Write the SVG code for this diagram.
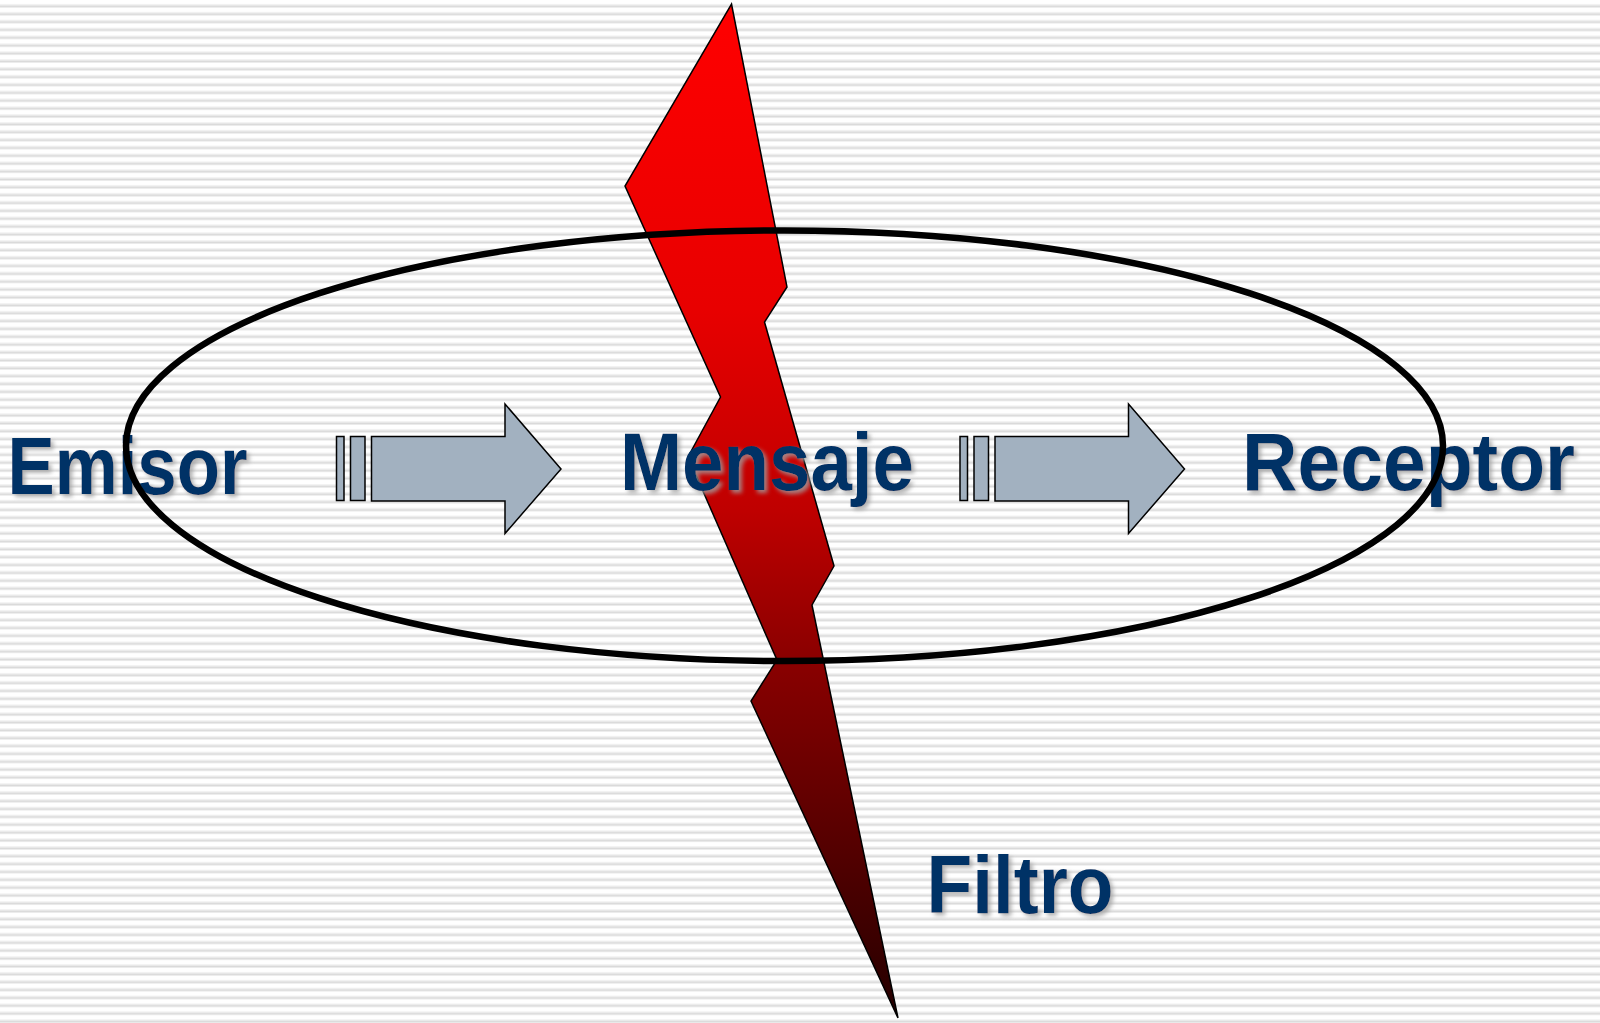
<svg xmlns="http://www.w3.org/2000/svg" width="1600" height="1023" viewBox="0 0 1600 1023">
  <defs>
    <!-- striped paper background -->
    <pattern id="stripes" x="0" y="0" width="40" height="7.87" patternUnits="userSpaceOnUse">
      <rect width="40" height="7.87" fill="#ffffff"/>
      <rect y="4.3" width="40" height="1.2" fill="#ececec"/>
      <rect y="5.5" width="40" height="1.9" fill="#dadada"/>
    </pattern>
    <linearGradient id="boltFill" x1="0" y1="4" x2="0" y2="1018" gradientUnits="userSpaceOnUse">
      <stop offset="0" stop-color="#ff0000"/>
      <stop offset="0.3" stop-color="#e80000"/>
      <stop offset="0.5" stop-color="#bf0000"/>
      <stop offset="0.64" stop-color="#8c0000"/>
      <stop offset="1" stop-color="#240000"/>
    </linearGradient>
    <filter id="textShadow" x="-10%" y="-20%" width="130%" height="150%">
      <feDropShadow dx="3" dy="3" stdDeviation="2.2" flood-color="#a0a0a0" flood-opacity="0.8"/>
    </filter>
    <style>
      .label { font-family: "Liberation Sans", Arial, sans-serif; font-weight: bold; font-size: 81px; fill: #003366; filter: url(#textShadow); }
      .arrow { fill: #a2b1c0; stroke: #000000; stroke-width: 1.5; stroke-linejoin: miter; }
      .bolt { fill: url(#boltFill); stroke: #000000; stroke-width: 1.5; stroke-linejoin: miter; }
      .ring { fill: none; stroke: #000000; stroke-width: 6.5; }
    </style>
  </defs>

  <rect width="1600" height="1023" fill="url(#stripes)"/>

  <!-- lightning bolt -->
  <g id="filtro-bolt">
    <polygon class="bolt" points="731.5,4 787,287 764.5,322 834,566 812,605 898,1018 751,701 777,660 688,457 720.5,397 625,186"/>
  </g>

  <!-- labels -->
  <g id="emisor">
    <text class="label" x="7.5" y="494" textLength="240" lengthAdjust="spacingAndGlyphs">Emisor</text>
  </g>
  <g id="mensaje">
    <text class="label" x="620" y="490" textLength="294" lengthAdjust="spacingAndGlyphs">Mensaje</text>
  </g>
  <g id="receptor">
    <text class="label" x="1242" y="490" textLength="333" lengthAdjust="spacingAndGlyphs">Receptor</text>
  </g>
  <g id="filtro">
    <text class="label" x="926.5" y="913" textLength="187" lengthAdjust="spacingAndGlyphs">Filtro</text>
  </g>

  <!-- connectors -->
  <g id="connectors">
    <g id="arrow-emisor-mensaje">
      <rect class="arrow" x="336.5" y="436.5" width="7.5" height="64"/>
      <rect class="arrow" x="350.5" y="436.5" width="14.5" height="64"/>
      <polygon class="arrow" points="371.5,436.5 505,436.5 505,404 561,469 505,533.5 505,501 371.5,501"/>
    </g>
    <g id="arrow-mensaje-receptor" transform="translate(623.5,0)">
      <rect class="arrow" x="336.5" y="436.5" width="7.5" height="64"/>
      <rect class="arrow" x="350.5" y="436.5" width="14.5" height="64"/>
      <polygon class="arrow" points="371.5,436.5 505,436.5 505,404 561,469 505,533.5 505,501 371.5,501"/>
    </g>
  </g>

  <!-- communication loop -->
  <g id="loop">
    <ellipse class="ring" cx="784.5" cy="445.7" rx="658.5" ry="215.3"/>
  </g>
</svg>
